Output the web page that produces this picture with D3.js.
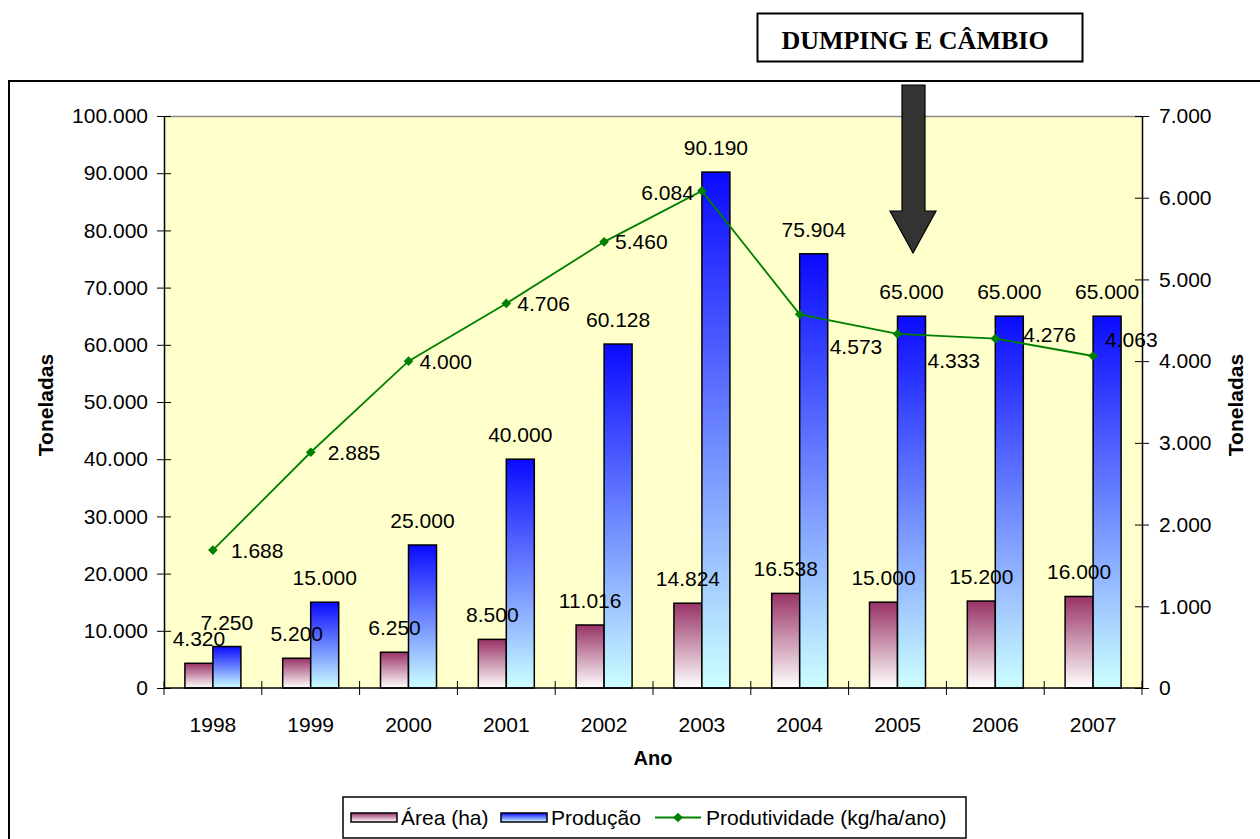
<!DOCTYPE html>
<html>
<head>
<meta charset="utf-8">
<script src="https://cdn.jsdelivr.net/npm/d3@7"></script>
<style>
  body { margin: 0; background: #fff; }
</style>
</head>
<body>
<div class="container"></div>
<script>
// data
let years = ["1998", "1999", "2000", "2001", "2002", "2003", "2004", "2005", "2006", "2007"];
let area = [4320, 5200, 6250, 8500, 11016, 14824, 16538, 15000, 15200, 16000];
let producao = [7250, 15000, 25000, 40000, 60128, 90190, 75904, 65000, 65000, 65000];
let produtividade = [1688, 2885, 4000, 4706, 5460, 6084, 4573, 4333, 4276, 4063];
let leftTicks = [0, 10000, 20000, 30000, 40000, 50000, 60000, 70000, 80000, 90000, 100000];
let rightTicks = [0, 1000, 2000, 3000, 4000, 5000, 6000, 7000];

// hand placement of the line labels (like the original spreadsheet)
let lineLabelNudge = [[18, 0], [17, 0], [11, 0], [11, 0], [11, 0], [-8, 2, "end"], [30, 32], [30, 27], [28, -4], [12, -17]];

let SANS = "'Liberation Sans', Arial, sans-serif";
let SERIF = "'Liberation Serif', 'Times New Roman', serif";

let W = 1260, H = 839;
let margin = { top: 116, right: 118, bottom: 151, left: 164 };
let width = W - margin.left - margin.right,
    height = H - margin.top - margin.bottom;

let loc = d3.formatLocale({ decimal: ",", thousands: ".", grouping: [3], currency: ["R$", ""] });
let fmt = loc.format(",.0f");

let svg = d3.select(".container").append("svg")
    .attr("width", W)
    .attr("height", H)
    .attr("font-family", SANS);

let defs = svg.append("defs");

function grad(id, top, bottom) {
    let g = defs.append("linearGradient")
        .attr("id", id)
        .attr("x1", 0).attr("y1", 0)
        .attr("x2", 0).attr("y2", 1);
    g.append("stop").attr("offset", "0%").attr("stop-color", top);
    g.append("stop").attr("offset", "100%").attr("stop-color", bottom);
}
grad("gArea", "#993366", "#ffffff");
grad("gProd", "#0a0aff", "#ccffff");

// outer chart frame (runs off the picture on the right/bottom)
svg.append("rect")
    .attr("x", 9).attr("y", 81)
    .attr("width", 1400).attr("height", 900)
    .attr("fill", "none")
    .attr("stroke", "#000")
    .attr("stroke-width", 2);

let x = d3.scaleBand()
    .domain(years)
    .range([0, width])
    .paddingInner(0.4274)
    .paddingOuter(0.2137);

let xSub = d3.scaleBand()
    .domain(["area", "prod"])
    .range([0, x.bandwidth()]);

let y = d3.scaleLinear().domain([0, 100000]).range([height, 0]);
let y2 = d3.scaleLinear().domain([0, 7000]).range([height, 0]);

let focus = svg.append("g")
    .attr("transform", "translate(" + margin.left + "," + margin.top + ")");

// plot area
focus.append("rect")
    .attr("width", width)
    .attr("height", height)
    .attr("fill", "#ffffcc");

focus.append("line")
    .attr("x1", 0).attr("x2", width)
    .attr("y1", 0.5).attr("y2", 0.5)
    .attr("stroke", "#8c8c8c")
    .attr("stroke-width", 1.5);

// bars
let groups = focus.selectAll(".grp")
    .data(years)
    .enter()
    .append("g")
    .attr("class", "grp")
    .attr("transform", function (d) { return "translate(" + x(d) + ",0)"; });

groups.append("rect")
    .attr("x", xSub("area"))
    .attr("y", function (d, i) { return y(area[i]); })
    .attr("width", xSub.bandwidth())
    .attr("height", function (d, i) { return height - y(area[i]); })
    .attr("fill", "url(#gArea)")
    .attr("stroke", "#000")
    .attr("stroke-width", 1.5);

groups.append("rect")
    .attr("x", xSub("prod"))
    .attr("y", function (d, i) { return y(producao[i]); })
    .attr("width", xSub.bandwidth())
    .attr("height", function (d, i) { return height - y(producao[i]); })
    .attr("fill", "url(#gProd)")
    .attr("stroke", "#000")
    .attr("stroke-width", 1.5);

// axes
let yAxis = d3.axisLeft(y).tickValues(leftTicks).tickFormat(fmt).tickSizeInner(7).tickSizeOuter(0).tickPadding(9);
let yAxis2 = d3.axisRight(y2).tickValues(rightTicks).tickFormat(fmt).tickSizeInner(7).tickSizeOuter(0).tickPadding(10);

function crossTicks(g, dir) {
    g.attr("font-family", SANS).attr("font-size", 21);
    g.select(".domain").attr("stroke", "#000").attr("stroke-width", 1.5);
    g.selectAll(".tick line").attr("stroke", "#000").attr("stroke-width", 1)
        .attr("x1", -7 * dir).attr("x2", 7 * dir);
    g.selectAll(".tick text").attr("fill", "#000");
}

focus.append("g").call(yAxis).call(crossTicks, -1);
focus.append("g").attr("transform", "translate(" + width + ",0)").call(yAxis2).call(crossTicks, 1);

// x axis with boundary ticks between categories
let xAxisG = focus.append("g").attr("transform", "translate(0," + height + ")");
xAxisG.append("line")
    .attr("x1", 0).attr("x2", width)
    .attr("stroke", "#000").attr("stroke-width", 1.5);
xAxisG.selectAll(".bt")
    .data(d3.range(years.length + 1))
    .enter()
    .append("line")
    .attr("x1", function (i) { return i * x.step(); })
    .attr("x2", function (i) { return i * x.step(); })
    .attr("y1", -7).attr("y2", 7)
    .attr("stroke", "#000");
xAxisG.selectAll(".yl")
    .data(years)
    .enter()
    .append("text")
    .attr("x", function (d) { return x(d) + x.bandwidth() / 2; })
    .attr("y", 44)
    .attr("text-anchor", "middle")
    .attr("font-size", 21)
    .text(function (d) { return d; });

// line on the secondary axis
let cx = function (i) { return x(years[i]) + x.bandwidth() / 2; };
let line = d3.line()
    .x(function (d, i) { return cx(i); })
    .y(function (d) { return y2(d); });

focus.append("path")
    .datum(produtividade)
    .attr("d", line)
    .attr("fill", "none")
    .attr("stroke", "#008000")
    .attr("stroke-width", 1.8);

let diamond = d3.symbol().type(d3.symbolDiamond2).size(60);
focus.selectAll(".mk")
    .data(produtividade)
    .enter()
    .append("path")
    .attr("d", diamond)
    .attr("transform", function (d, i) { return "translate(" + cx(i) + "," + y2(d) + ")"; })
    .attr("fill", "#008000");

// bar labels
groups.append("text")
    .attr("x", xSub("area") + xSub.bandwidth() / 2)
    .attr("y", function (d, i) { return y(area[i]) - 17; })
    .attr("text-anchor", "middle")
    .attr("font-size", 21)
    .text(function (d, i) { return fmt(area[i]); });

groups.append("text")
    .attr("x", xSub("prod") + xSub.bandwidth() / 2)
    .attr("y", function (d, i) { return y(producao[i]) - 17; })
    .attr("text-anchor", "middle")
    .attr("font-size", 21)
    .text(function (d, i) { return fmt(producao[i]); });

// line labels
focus.selectAll(".ll")
    .data(produtividade)
    .enter()
    .append("text")
    .attr("x", function (d, i) { return cx(i) + lineLabelNudge[i][0]; })
    .attr("y", function (d, i) { return y2(d) + lineLabelNudge[i][1]; })
    .attr("dy", "0.36em")
    .attr("text-anchor", function (d, i) { return lineLabelNudge[i][2] || "start"; })
    .attr("font-size", 21)
    .text(function (d) { return fmt(d); });

// axis titles
svg.append("text")
    .attr("transform", "translate(53," + (margin.top + height / 2 + 3) + ") rotate(-90)")
    .attr("text-anchor", "middle")
    .attr("font-size", 21)
    .attr("font-weight", "bold")
    .text("Toneladas");

svg.append("text")
    .attr("transform", "translate(1243," + (margin.top + height / 2 + 3) + ") rotate(-90)")
    .attr("text-anchor", "middle")
    .attr("font-size", 21)
    .attr("font-weight", "bold")
    .text("Toneladas");

svg.append("text")
    .attr("x", margin.left + width / 2)
    .attr("y", 765)
    .attr("text-anchor", "middle")
    .attr("font-size", 20)
    .attr("font-weight", "bold")
    .text("Ano");

// annotation box + arrow
svg.append("rect")
    .attr("x", 757.5).attr("y", 13.5)
    .attr("width", 325).attr("height", 48)
    .attr("fill", "#fff")
    .attr("stroke", "#000")
    .attr("stroke-width", 2);

svg.append("text")
    .attr("x", 915)
    .attr("y", 49)
    .attr("text-anchor", "middle")
    .attr("font-family", SERIF)
    .attr("font-size", 26)
    .attr("font-weight", "bold")
    .text("DUMPING E CÂMBIO");

let arrowPts = [[902, 85], [925, 85], [925, 211], [936, 211], [913, 253], [890, 211], [902, 211]];
svg.append("path")
    .attr("d", d3.line()(arrowPts) + "Z")
    .attr("fill", "#333333")
    .attr("stroke", "#000")
    .attr("stroke-width", 1.2);

// legend
let legend = svg.append("g").attr("transform", "translate(343,797)");
legend.append("rect")
    .attr("width", 623).attr("height", 41)
    .attr("fill", "#fff")
    .attr("stroke", "#000")
    .attr("stroke-width", 1.5);

legend.append("rect")
    .attr("x", 8).attr("y", 16).attr("width", 46).attr("height", 9)
    .attr("fill", "url(#gArea)").attr("stroke", "#000").attr("stroke-width", 1.5);
legend.append("text").attr("x", 58).attr("y", 28).attr("font-size", 21).text("Área (ha)");

legend.append("rect")
    .attr("x", 158).attr("y", 16).attr("width", 46).attr("height", 9)
    .attr("fill", "url(#gProd)").attr("stroke", "#000").attr("stroke-width", 1.5);
legend.append("text").attr("x", 208).attr("y", 28).attr("font-size", 21).text("Produção");

legend.append("line")
    .attr("x1", 312).attr("x2", 358).attr("y1", 20.5).attr("y2", 20.5)
    .attr("stroke", "#008000").attr("stroke-width", 1.8);
legend.append("path")
    .attr("d", diamond)
    .attr("transform", "translate(335,20.5)")
    .attr("fill", "#008000");
legend.append("text").attr("x", 363).attr("y", 28).attr("font-size", 21).text("Produtividade (kg/ha/ano)");
</script>
</body>
</html>
